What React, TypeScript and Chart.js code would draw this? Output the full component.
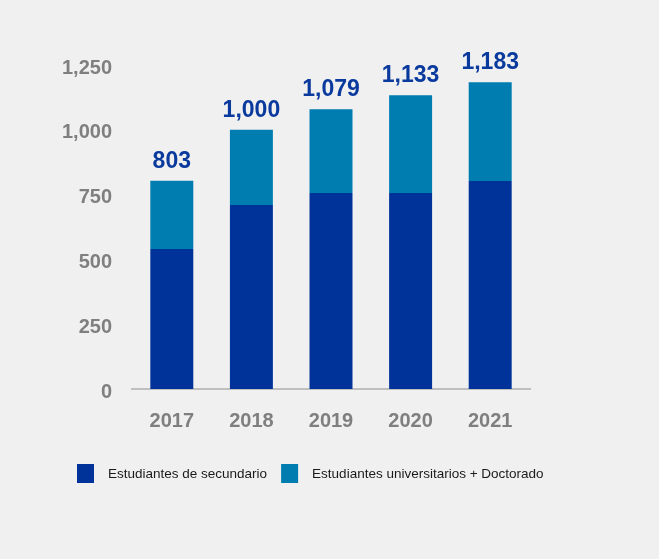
import React, { useEffect, useRef } from "react";
import { Chart, registerables } from "chart.js";

Chart.register(...registerables);

const categories = ["2017", "2018", "2019", "2020", "2021"];
const secundario = [540, 710, 756, 756, 802];
const universitarios = [263, 290, 323, 377, 381];
const seriesLabels = ["Estudiantes de secundario", "Estudiantes universitarios + Doctorado"];
const yTicks = [0, 250, 500, 750, 1000, 1250];

const DARK = "#003399";
const LIGHT = "#007db0";
const BG = "#f0f0f0";
const FONT = '"Liberation Sans", Arial, sans-serif';

const fmt = (v: number) => v.toLocaleString("en-US");

const totalsPlugin = {
  id: "totals",
  afterDatasetsDraw(chart: any) {
    const ctx = chart.ctx;
    const n = chart.data.labels.length;
    const topMeta = chart.getDatasetMeta(chart.data.datasets.length - 1);
    ctx.save();
    ctx.fillStyle = "#0a3a9e";
    ctx.font = `bold 23px ${FONT}`;
    ctx.textAlign = "center";
    ctx.textBaseline = "alphabetic";
    for (let i = 0; i < n; i++) {
      let sum = 0;
      chart.data.datasets.forEach((d: any) => (sum += d.data[i]));
      const el = topMeta.data[i];
      ctx.fillText(fmt(sum), el.x, el.y - 13);
    }
    ctx.restore();
  },
};

const legendPlugin = {
  id: "customLegend",
  afterDraw(chart: any) {
    const ctx = chart.ctx;
    ctx.save();
    ctx.font = `13.5px ${FONT}`;
    ctx.textBaseline = "middle";
    ctx.textAlign = "left";
    let x = 77;
    const cy = 474;
    chart.data.datasets.forEach((d: any) => {
      ctx.fillStyle = d.backgroundColor;
      ctx.fillRect(x, cy - 10, 17, 19);
      x += 17 + 14;
      ctx.fillStyle = "#1a1a1a";
      ctx.fillText(d.label, x, cy);
      x += ctx.measureText(d.label).width + 14;
    });
    ctx.restore();
  },
};

const bgPlugin = {
  id: "bg",
  beforeDraw(chart: any) {
    const ctx = chart.ctx;
    ctx.save();
    ctx.fillStyle = BG;
    ctx.fillRect(0, 0, chart.width, chart.height);
    ctx.restore();
  },
};

export default function App() {
  const ref = useRef<HTMLCanvasElement | null>(null);
  useEffect(() => {
    document.body.style.margin = "0";
    document.body.style.background = BG;
    if (!ref.current) return;
    const chart = new Chart(ref.current, {
      type: "bar",
      data: {
        labels: categories,
        datasets: [
          { label: seriesLabels[0], data: secundario, backgroundColor: DARK, barPercentage: 0.54, categoryPercentage: 1 },
          { label: seriesLabels[1], data: universitarios, backgroundColor: LIGHT, barPercentage: 0.54, categoryPercentage: 1 },
        ],
      },
      options: {
        animation: false,
        responsive: false,
        maintainAspectRatio: false,
        layout: { padding: { left: 0, right: 129, top: 65, bottom: 0 } },
        plugins: { legend: { display: false }, tooltip: { enabled: false } },
        scales: {
          x: {
            stacked: true,
            grid: { display: false, drawTicks: false },
            border: { display: true, color: "#bfbfbf", width: 2 },
            ticks: { color: "#7f7f7f", font: { family: FONT, size: 20, weight: "bold" }, padding: 20 },
            afterFit: (s: any) => { s.height = 170; },
          },
          y: {
            stacked: true,
            min: 0,
            max: 1250,
            afterBuildTicks: (s: any) => { s.ticks = yTicks.map((v) => ({ value: v })); },
            grid: { display: false, drawTicks: false },
            border: { display: false },
            ticks: {
              color: "#7f7f7f",
              font: { family: FONT, size: 20, weight: "bold" },
              padding: 20,
              labelOffset: 3,
              callback: (v: any) => fmt(Number(v)),
            },
            afterFit: (s: any) => { s.width = 132; },
          },
        },
      },
      plugins: [bgPlugin, totalsPlugin, legendPlugin],
    });
    return () => chart.destroy();
  }, []);
  return <canvas ref={ref} width={659} height={559} style={{ display: "block" }} />;
}
